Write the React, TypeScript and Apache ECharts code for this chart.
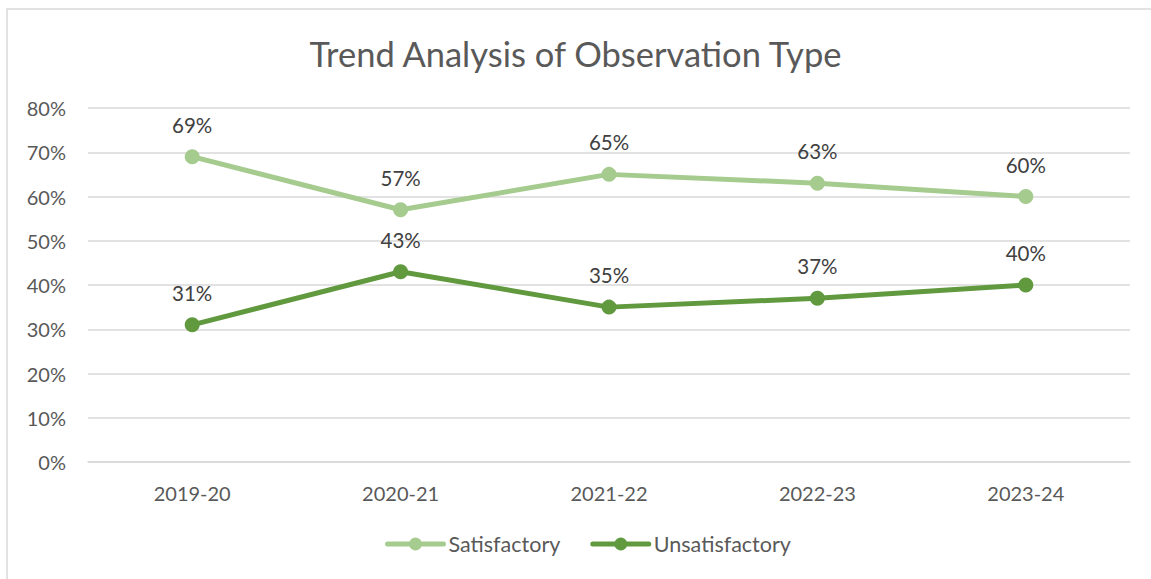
import React, { useEffect, useRef } from "react";
import * as echarts from "echarts";

const categories = ["2019-20", "2020-21", "2021-22", "2022-23", "2023-24"];
const satisfactory = [69, 57, 65, 63, 60];
const unsatisfactory = [31, 43, 35, 37, 40];
const titleText = "Trend Analysis of Observation Type";

const FONT = "Lato, 'Open Sans', sans-serif";
const TEXT = "#595959";
const LABEL = "#404040";
const LIGHT = "#A5CB8F";
const DARK = "#61993F";

export default function App() {
  const ref = useRef<HTMLDivElement>(null);
  useEffect(() => {
    document.body.style.margin = "0";
    const chart = echarts.init(ref.current!, null, { renderer: "svg" });
    const labelOpt = {
      show: true,
      position: "top",
      distance: 14,
      formatter: "{c}%",
      color: LABEL,
      fontSize: 20.5,
      fontFamily: FONT,
    };
    chart.setOption({
      animation: false,
      backgroundColor: "#ffffff",
      textStyle: { fontFamily: FONT },
      graphic: [
        {
          type: "rect",
          shape: { x: 7, y: 9, width: 1160, height: 590 },
          style: { fill: "none", stroke: "#D9D9D9", lineWidth: 1.5 },
          silent: true,
        },
      ],
      title: {
        text: titleText,
        left: "center",
        top: 31,
        textStyle: { fontFamily: FONT, fontSize: 34.5, fontWeight: "normal", color: TEXT },
      },
      grid: { left: 88, right: 21, top: 108, bottom: 117 },
      xAxis: {
        type: "category",
        data: categories,
        boundaryGap: true,
        axisLine: { show: true, lineStyle: { color: "#D9D9D9", width: 1.5 } },
        axisTick: { show: false },
        axisLabel: { color: TEXT, fontSize: 20, fontFamily: FONT, margin: 21 },
      },
      yAxis: {
        type: "value",
        min: 0,
        max: 80,
        interval: 10,
        axisLine: { show: false },
        axisTick: { show: false },
        splitLine: { lineStyle: { color: "#D9D9D9", width: 1.5 } },
        axisLabel: { color: TEXT, fontSize: 20, fontFamily: FONT, margin: 22, formatter: "{value}%" },
      },
      legend: {
        bottom: 19,
        left: 380,
        itemWidth: 56,
        itemHeight: 16,
        itemGap: 30,
        textStyle: { color: TEXT, fontSize: 21.5, fontFamily: FONT, padding: [0, 0, 0, 0] },
        data: [
          { name: "Satisfactory", lineStyle: { width: 5, color: LIGHT, cap: "round" } },
          { name: "Unsatisfactory", lineStyle: { width: 5, color: DARK, cap: "round" } },
        ],
      },
      series: [
        {
          name: "Satisfactory",
          type: "line",
          data: satisfactory,
          symbol: "circle",
          symbolSize: 15,
          color: LIGHT,
          lineStyle: { width: 5, color: LIGHT },
          itemStyle: { color: LIGHT },
          label: labelOpt,
        },
        {
          name: "Unsatisfactory",
          type: "line",
          data: unsatisfactory,
          symbol: "circle",
          symbolSize: 15,
          color: DARK,
          lineStyle: { width: 5, color: DARK },
          itemStyle: { color: DARK },
          label: labelOpt,
        },
      ],
    });
    return () => chart.dispose();
  }, []);
  return (
    <div
      ref={ref}
      style={{ position: "fixed", left: 0, top: 0, width: 1151, height: 579 }}
    />
  );
}
